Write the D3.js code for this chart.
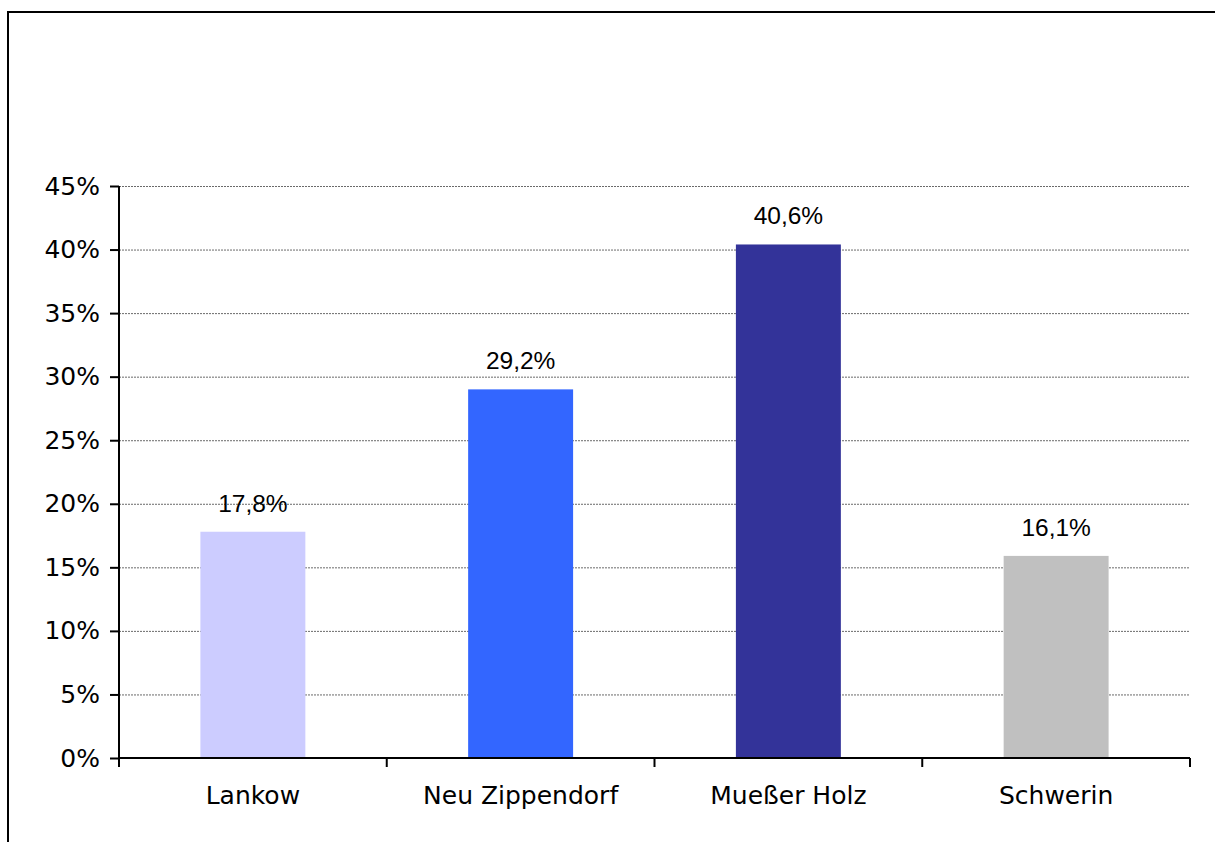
<!DOCTYPE html>
<html>
<head>
<meta charset="utf-8">
<script src="https://cdn.jsdelivr.net/npm/d3@7"></script>
<style>
  body { margin: 0; background: #fff; }
  .axis text { font-family: "DejaVu Sans", Verdana, sans-serif; font-size: 25px; fill: #000; }
  .lbl { font-family: "Liberation Sans", Arial, sans-serif; font-size: 24.5px; fill: #000; }
</style>
</head>
<body>
<div id="chart"></div>
<script>
// districts and share values (bar heights, labels as printed)
const categories = ["Lankow", "Neu Zippendorf", "Mueßer Holz", "Schwerin"];
const values = [17.8, 29.0, 40.4, 15.9];
const valueLabels = ["17,8%", "29,2%", "40,6%", "16,1%"];
const barColors = ["#ccccff", "#3366ff", "#333399", "#c0c0c0"];
const yTicks = [0, 5, 10, 15, 20, 25, 30, 35, 40, 45];

const w = 1215, h = 842;
const plotL = 119, plotR = 1190, plotT = 186, plotB = 758;

const svg = d3.select("#chart").append("svg")
  .attr("width", w)
  .attr("height", h);

// outer frame (right and bottom edges run off the picture)
svg.append("rect")
  .attr("x", 8).attr("y", 12)
  .attr("width", 1230).attr("height", 860)
  .attr("fill", "none")
  .attr("stroke", "#000")
  .attr("stroke-width", 2);

const x = d3.scaleBand()
  .domain(categories)
  .range([plotL, plotR])
  .padding(0);

const y = d3.scaleLinear()
  .domain([0, 45])
  .range([plotB, plotT]);

// dotted gridlines
svg.append("g")
  .selectAll("line")
  .data(yTicks.filter(d => d > 0))
  .enter()
  .append("line")
  .attr("x1", plotL)
  .attr("x2", plotR)
  .attr("y1", d => y(d) + 0.5)
  .attr("y2", d => y(d) + 0.5)
  .attr("stroke", "#6a6a6a")
  .attr("stroke-width", 1)
  .attr("stroke-dasharray", "2,1");

// bars
const barW = x.bandwidth() * 0.392;
svg.append("g")
  .selectAll("rect")
  .data(categories)
  .enter()
  .append("rect")
  .attr("x", d => x(d) + (x.bandwidth() - barW) / 2)
  .attr("y", (d, i) => y(values[i]))
  .attr("width", barW)
  .attr("height", (d, i) => plotB - y(values[i]))
  .attr("fill", (d, i) => barColors[i]);

// value labels
svg.append("g")
  .selectAll("text")
  .data(categories)
  .enter()
  .append("text")
  .attr("class", "lbl")
  .attr("text-anchor", "middle")
  .attr("x", d => x(d) + x.bandwidth() / 2)
  .attr("y", (d, i) => y(values[i]) - 20)
  .text((d, i) => valueLabels[i]);

// y axis
const yAxis = d3.axisLeft(y)
  .tickValues(yTicks)
  .tickFormat(d => d + "%")
  .tickSize(9)
  .tickSizeOuter(0)
  .tickPadding(10);

const yG = svg.append("g")
  .attr("class", "axis")
  .attr("transform", "translate(" + plotL + ",0)")
  .call(yAxis);
yG.select(".domain").remove();
yG.selectAll("line").attr("stroke", "#000").attr("stroke-width", 2);
yG.append("line")
  .attr("x1", 0).attr("x2", 0)
  .attr("y1", plotT).attr("y2", plotB + 9)
  .attr("stroke", "#000").attr("stroke-width", 2);

// x axis with ticks on category boundaries
const xG = svg.append("g")
  .attr("class", "axis")
  .attr("transform", "translate(0," + plotB + ")");
xG.append("line")
  .attr("x1", plotL).attr("x2", plotR)
  .attr("y1", 0).attr("y2", 0)
  .attr("stroke", "#000").attr("stroke-width", 2);
xG.selectAll(".tk")
  .data(categories.slice(1).concat(["end"]))
  .enter()
  .append("line")
  .attr("class", "tk")
  .attr("x1", d => d === "end" ? plotR : x(d))
  .attr("x2", d => d === "end" ? plotR : x(d))
  .attr("y1", 0).attr("y2", 9)
  .attr("stroke", "#000").attr("stroke-width", 2);
xG.selectAll("text")
  .data(categories)
  .enter()
  .append("text")
  .attr("text-anchor", "middle")
  .attr("x", d => x(d) + x.bandwidth() / 2)
  .attr("y", 46)
  .text(d => d);
</script>
</body>
</html>
